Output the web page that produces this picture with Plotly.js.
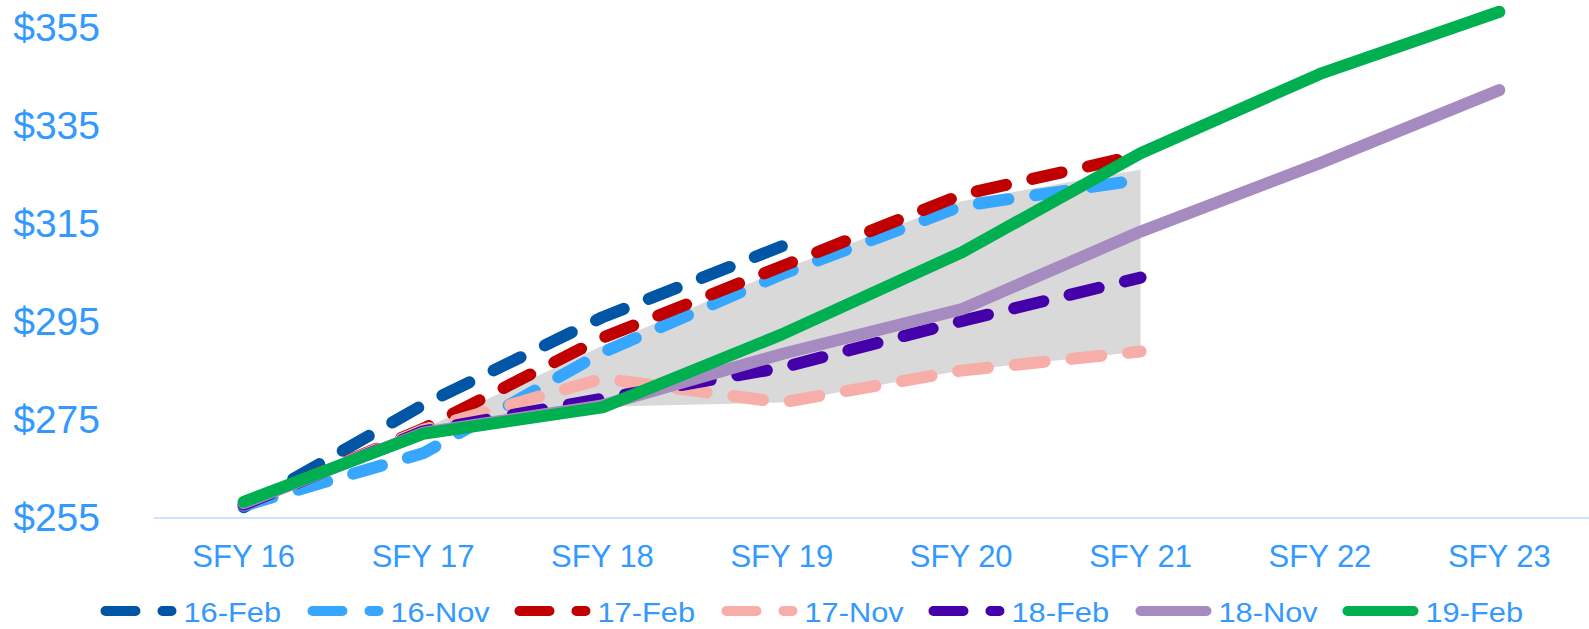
<!DOCTYPE html>
<html>
<head>
<meta charset="utf-8">
<script src="https://cdn.plot.ly/plotly-3.0.1.min.js"></script>
<style>
  html, body { margin: 0; padding: 0; background: #ffffff; }
  #chart { width: 1589px; height: 629px; }
  .scatterlayer .js-line, .legend .js-line { stroke-linecap: round; stroke-linejoin: round; }
  .legend .scrollbox { clip-path: none !important; }
  .legend .scrollbar { display: none !important; }
  .legend .legendtext { transform-box: fill-box; transform-origin: left center; transform: scaleX(1.1); }
</style>
</head>
<body>
<div id="chart"></div>
<script>
// ---- data ----
const categories = ["SFY 16", "SFY 17", "SFY 18", "SFY 19", "SFY 20", "SFY 21", "SFY 22", "SFY 23"];

const feb16 = [257.0, 277.9, 295.8, 310.3, null, null, null, null];
const nov16 = [257.3, 268.0, 288.6, 304.6, 318.5, 323.9, null, null];
const feb17 = [257.5, 273.0, 291.6, 306.2, 320.8, 329.0, null, null];
const nov17 = [257.5, 272.8, 283.3, 278.4, 284.9, 288.8, null, null];
const feb18 = [257.5, 272.5, 279.2, 285.5, 295.0, 303.9, null, null];
const nov18 = [257.8, 272.2, 277.8, 288.3, 297.4, 313.3, 327.3, 342.2];
const feb19 = [258.1, 272.0, 277.4, 292.3, 309.0, 329.3, 345.5, 358.2];

// shaded forecast range (SFY 17 – SFY 21)
const bandCategories = ["SFY 17", "SFY 18", "SFY 19", "SFY 20", "SFY 21"];
const bandUpper = [273.0, 290.0, 305.5, 319.5, 326.0];
const bandLower = [272.5, 277.5, 278.4, 284.9, 288.8];

const seriesNames = ["16-Feb", "16-Nov", "17-Feb", "17-Nov", "18-Feb", "18-Nov", "19-Feb"];
const seriesValues = [feb16, nov16, feb17, nov17, feb18, nov18, feb19];
const seriesColors = ["#0055A4", "#36A6FF", "#C00000", "#F8AEA8", "#4600AA", "#A68BC1", "#00B050"];
const seriesDashes = ["30px,27px", "30px,27px", "30px,27px", "30px,27px", "30px,27px", "solid", "solid"];

const textColor = "#3399FF";
const fontFamily = "Liberation Sans, Arial, sans-serif";

const traces = [{
  x: bandCategories.concat(bandCategories.slice().reverse()),
  y: bandUpper.concat(bandLower.slice().reverse()),
  type: "scatter",
  mode: "lines",
  fill: "toself",
  fillcolor: "#D9D9D9",
  line: { width: 0, color: "rgba(0,0,0,0)" },
  showlegend: false,
  hoverinfo: "skip"
}];

seriesNames.forEach((name, i) => {
  traces.push({
    x: categories,
    y: seriesValues[i],
    name: name,
    type: "scatter",
    mode: "lines",
    connectgaps: false,
    line: { color: seriesColors[i], width: 12, dash: seriesDashes[i] }
  });
});

const layout = {
  width: 1589,
  height: 629,
  margin: { l: 154, r: 0, t: 1, b: 112, autoexpand: false },
  paper_bgcolor: "#ffffff",
  plot_bgcolor: "#ffffff",
  font: { family: fontFamily, color: textColor },
  showlegend: true,
  legend: {
    orientation: "h",
    x: -0.0373,
    xanchor: "left",
    y: -0.1828,
    yanchor: "middle",
    font: { size: 28, color: textColor, family: fontFamily },
    itemwidth: 73,
    entrywidth: 119,
    entrywidthmode: "pixels",
    bgcolor: "rgba(0,0,0,0)",
    traceorder: "normal"
  },
  xaxis: {
    type: "category",
    categoryorder: "array",
    categoryarray: categories,
    range: [-0.5, 7.5],
    showgrid: false,
    zeroline: false,
    showline: true,
    linecolor: "#CCE5FF",
    linewidth: 2,
    ticks: "",
    ticklabelstandoff: 11,
    tickfont: { size: 31, color: textColor, family: fontFamily },
    fixedrange: true
  },
  yaxis: {
    range: [255, 360.4],
    tick0: 255,
    dtick: 20,
    tickprefix: "$",
    showgrid: false,
    zeroline: false,
    showline: false,
    ticks: "",
    ticklabelstandoff: 53,
    tickfont: { size: 39, color: textColor, family: fontFamily },
    fixedrange: true
  }
};

function patchLegend(gd) {
  gd.querySelectorAll(".legend .js-line").forEach(function (p) {
    p.setAttribute("d", "M5,0h66");
  });
  gd.querySelectorAll(".legend .scrollbox").forEach(function (s) {
    s.removeAttribute("clip-path");
  });
}

Plotly.newPlot("chart", traces, layout, { displayModeBar: false, staticPlot: true }).then(function (gd) {
  patchLegend(gd);
  gd.on("plotly_afterplot", function () { patchLegend(gd); });
  setTimeout(function () { patchLegend(gd); }, 50);
});
</script>
</body>
</html>
